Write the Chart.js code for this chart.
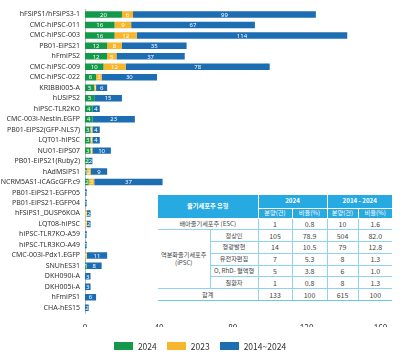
<!DOCTYPE html>
<html>
<head>
<meta charset="utf-8">
<script src="https://cdn.jsdelivr.net/npm/chart.js@4"></script>
<style>
  html, body { margin: 0; padding: 0; background: #fff; }
  #wrap { position: relative; width: 400px; height: 353px; font-family: "Noto Sans CJK KR", "Noto Sans", sans-serif; }
  #chart { position: absolute; left: 0; top: 0; }
  #legend { position: absolute; left: 0; top: 340px; width: 400px; display: flex; justify-content: center; font-size: 8.5px; color: #333; }
  #legend span.item { display: flex; align-items: center; margin: 0 5px; }
  #legend i { display: inline-block; width: 19px; height: 8px; margin-right: 5px; }
  #tbl { position: absolute; left: 158px; top: 195px; border-collapse: collapse; table-layout: fixed; background: #fff;
         font-size: 6.2px; color: #444; text-align: center; white-space: nowrap; }
  #tbl th { background: #27a9e1; color: #fff; font-weight: bold; padding: 0; line-height: 8px; border: 1px solid #fff; border-top: 0; overflow: hidden; }
  #tbl th.first { border-left: 0; }
  #tbl th.last { border-right: 0; }
  #tbl td { padding: 0; line-height: 8px; border: 1px solid #8fd3f0; overflow: hidden; }
  #tbl td.n { font-size: 7px; }
  #tbl td.l { border-left: 0; }
  #tbl td.r { border-right: 0; }
  #tbl tr.sum td { border-bottom: 1.5px solid #6cc6ec; }
</style>
</head>
<body>
<div id="wrap">
  <canvas id="chart" width="400" height="353"></canvas>
  <div id="legend"></div>
  <table id="tbl"></table>
</div>
<script>
const lines = ['hFSiPS1/hFSiPS3-1', 'CMC-hiPSC-011', 'CMC-hiPSC-003', 'PB01-EiPS21', 'hFmiPS2',
  'CMC-hiPSC-009', 'CMC-hiPSC-022', 'KRIBBi005-A', 'hUSiPS2', 'hiPSC-TLR2KO',
  'CMC-003i-Nestin.EGFP', 'PB01-EiPS2(GFP-NLS7)', 'LQT01-hiPSC', 'NU01-EiPS07', 'PB01-EiPS21(Ruby2)',
  'hAdMSiPS1', 'NCRM5AS1-iCAGcGFP.c9', 'PB01-EiPS21-EGFP05', 'PB01-EiPS21-EGFP04', 'hFSiPS1_DUSP6KOA',
  'LQT08-hiPSC', 'hiPSC-TLR7KO-A59', 'hiPSC-TLR3KO-A49', 'CMC-003i-Pdx1.EGFP', 'SNUhES31',
  'DKH090i-A', 'DKH005i-A', 'hFmiPS1', 'CHA-hES15'];
const y2024 = [20, 16, 16, 12, 12, 10, 6, 5, 5, 4, 4, 3, 3, 3, 2, 1, 2, 0, 0, 0, 0, 0, 0, 0, 1, 0, 0, 0, 0];
const y2023 = [6, 9, 12, 8, 5, 12, 3, 1, 0, 0, 0, 1, 1, 1, 0, 2, 3, 0, 0, 1, 1, 0, 0, 1, 0, 0, 0, 0, 0];
const y2014_2024 = [99, 67, 114, 35, 37, 78, 30, 6, 15, 4, 23, 4, 4, 10, 2, 9, 37, 1, 1, 2, 2, 1, 1, 11, 8, 3, 3, 6, 2];
const xTicks = [0, 40, 80, 120, 160];
const seriesNames = ['2024', '2023', '2014~2024'];
const seriesColors = ['#14994a', '#f8b62d', '#1c6db1'];

// table data
const tblHead1 = ['줄기세포주 유형', '2024', '2014 - 2024'];
const tblHead2 = ['분양(건)', '비율(%)', '분양(건)', '비율(%)'];
const escRow = ['배아줄기세포주 (ESC)', '1', '0.8', '10', '1.6'];
const ipscLabel = '역분화줄기세포주<br>(iPSC)';
const ipscRows = [
  ['정상인', '105', '78.9', '504', '82.0'],
  ['형광발현', '14', '10.5', '79', '12.8'],
  ['유전자편집', '7', '5.3', '8', '1.3'],
  ['O, RhD- 혈액형', '5', '3.8', '6', '1.0'],
  ['질환자', '1', '0.8', '8', '1.3']
];
const sumRow = ['합계', '133', '100', '615', '100'];

document.getElementById('legend').innerHTML = seriesNames.map((n, i) =>
  `<span class="item"><i style="background:${seriesColors[i]}"></i>${n}</span>`).join('');

function buildTable() {
  const colW = [52, 48, 34, 35, 31, 34];
  let h = '<colgroup>' + colW.map(w => `<col style="width:${w}px">`).join('') + '</colgroup>';
  h += `<tr style="height:13px"><th class="first" colspan="2" rowspan="2">${tblHead1[0]}</th>` +
       `<th colspan="2">${tblHead1[1]}</th><th class="last" colspan="2">${tblHead1[2]}</th></tr>`;
  h += '<tr style="height:10px">' + tblHead2.map((t, i) => `<th${i === 3 ? ' class="last"' : ''} style="font-weight:normal">${t}</th>`).join('') + '</tr>';
  const nums = r => r.slice(1).map((v, i) => `<td class="n${i === 3 ? ' r' : ''}">${v}</td>`).join('');
  const rh = ' style="height:11.8px"';
  h += `<tr${rh}><td class="l" colspan="2">${escRow[0]}</td>${nums(escRow)}</tr>`;
  ipscRows.forEach((r, k) => {
    h += `<tr${rh}>` + (k === 0 ? `<td class="l" rowspan="5">${ipscLabel}</td>` : '') +
         `<td>${r[0]}</td>${nums(r)}</tr>`;
  });
  h += `<tr class="sum"${rh}><td class="l" colspan="2">${sumRow[0]}</td>${nums(sumRow)}</tr>`;
  document.getElementById('tbl').innerHTML = h;
}
buildTable();

const barLabels = {
  id: 'barLabels',
  afterDatasetsDraw(chart) {
    const ctx = chart.ctx;
    ctx.save();
    ctx.fillStyle = '#fff';
    ctx.font = '6px "Noto Sans", sans-serif';
    ctx.textAlign = 'center';
    ctx.textBaseline = 'middle';
    chart.data.datasets.forEach((ds, i) => {
      chart.getDatasetMeta(i).data.forEach((bar, j) => {
        const v = ds.data[j];
        if (!v) return;
        ctx.fillText(String(v), (bar.x + bar.base) / 2, bar.y + 0.5);
      });
    });
    ctx.restore();
  }
};

new Chart(document.getElementById('chart'), {
  type: 'bar',
  data: {
    labels: lines,
    datasets: [y2024, y2023, y2014_2024].map((d, i) => ({
      label: seriesNames[i],
      data: d,
      backgroundColor: seriesColors[i],
      borderWidth: 0,
      barPercentage: 0.62,
      categoryPercentage: 1
    }))
  },
  options: {
    indexAxis: 'y',
    responsive: false,
    animation: false,
    layout: { padding: { top: 3.7, bottom: 26, right: 19.5, left: 0 } },
    plugins: { legend: { display: false }, tooltip: { enabled: false } },
    scales: {
      x: {
        stacked: true,
        min: 0, max: 160,
        afterBuildTicks: s => { s.ticks = xTicks.map(v => ({ value: v })); },
        afterFit: s => { s.height = 14; },
        grid: { display: false },
        border: { display: false },
        ticks: { padding: 3, color: '#333', font: { size: 8, family: '"Noto Sans", sans-serif' } }
      },
      y: {
        stacked: true,
        afterFit: s => { s.width = 85; },
        grid: { display: false, drawTicks: false },
        border: { display: true, color: '#bbb', width: 1 },
        ticks: { padding: 5, color: '#333', autoSkip: false, font: { size: 7, family: '"Noto Sans", sans-serif' } }
      }
    }
  },
  plugins: [barLabels]
});
</script>
</body>
</html>
